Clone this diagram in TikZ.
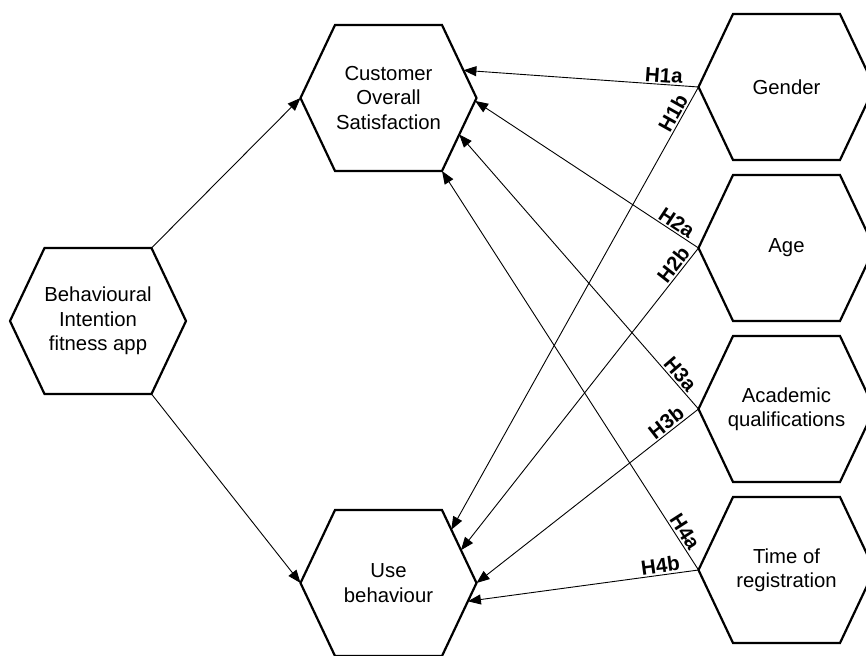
\documentclass[tikz,border=0pt]{standalone}
\usepackage{fontspec}
\setmainfont{Liberation Sans}
\usetikzlibrary{arrows.meta,calc}

% Hexagon with flat top/bottom and pointed left/right ends.
% #1 name, #2 x, #3 y (y grows downwards), #4 text
\newcommand\hexbox[4]{%
  \node[hextext] (#1) at (#2,#3) {#4};
  \coordinate (#1-l)  at ($(#1.center)+(-88,0)$);
  \coordinate (#1-r)  at ($(#1.center)+(88,0)$);
  \coordinate (#1-tl) at ($(#1.center)+(-53.5,-73)$);
  \coordinate (#1-tr) at ($(#1.center)+(53.5,-73)$);
  \coordinate (#1-bl) at ($(#1.center)+(-53.5,73)$);
  \coordinate (#1-br) at ($(#1.center)+(53.5,73)$);
  \draw[hexline] (#1-l) -- (#1-tl) -- (#1-tr) -- (#1-r) -- (#1-br) -- (#1-bl) -- cycle;
}

\tikzset{
  hextext/.style={align=center, inner sep=0pt, font=\fontsize{20.3}{24.5}\selectfont},
  hexline/.style={line width=2.2pt, line join=miter},
  link/.style={line width=0.9pt, -{Triangle[length=13pt,width=10pt]}},
  hyp/.style={sloped, above, inner sep=1.5pt, font=\bfseries\fontsize{20.5}{23}\selectfont},
}

\begin{document}
\begin{tikzpicture}[x=1pt, y=-1pt]
  \useasboundingbox (0,0) rectangle (866,655);

  \hexbox{bi}{98}{321}{Behavioural\\Intention\\fitness app}
  \hexbox{cos}{388.5}{98}{Customer\\Overall\\Satisfaction}
  \hexbox{use}{388.5}{583}{Use\\behaviour}
  \hexbox{gen}{786.5}{87}{Gender}
  \hexbox{age}{786.5}{248}{Age}
  \hexbox{aca}{786.5}{409}{Academic\\qualifications}
  \hexbox{tim}{786.5}{570}{Time of\\registration}

  % arrow end points on the two outcome hexagons
  \coordinate (cos-g) at ($(cos-tr)!0.62!(cos-r)$);
  \coordinate (cos-a) at ($(cos-r)!0.04!(cos-br)$);
  \coordinate (cos-q) at ($(cos-r)!0.5!(cos-br)$);
  \coordinate (cos-t) at (cos-br);
  \coordinate (use-g) at ($(use-tr)!0.27!(use-r)$);
  \coordinate (use-a) at ($(use-tr)!0.55!(use-r)$);
  \coordinate (use-q) at (use-r);
  \coordinate (use-t) at ($(use-r)!0.25!(use-br)$);

  % main paths
  \draw[link] (bi-tr) -- (cos-l);
  \draw[link] (bi-br) -- (use-l);

  % moderating hypotheses
  \draw[link] (gen-l) -- node[hyp, pos=0.15] {H1a} (cos-g);
  \draw[link] (gen-l) -- node[hyp, pos=0.07] {H1b} (use-g);
  \draw[link] (age-l) -- node[hyp, pos=0.12] {H2a} (cos-a);
  \draw[link] (age-l) -- node[hyp, pos=0.075] {H2b} (use-a);
  \draw[link] (aca-l) -- node[hyp, pos=0.105] {H3a} (cos-q);
  \draw[link] (aca-l) -- node[hyp, pos=0.12] {H3b} (use-q);
  \draw[link] (tim-l) -- node[hyp, pos=0.083] {H4a} (cos-t);
  \draw[link] (tim-l) -- node[hyp, pos=0.16] {H4b} (use-t);
\end{tikzpicture}
\end{document}
